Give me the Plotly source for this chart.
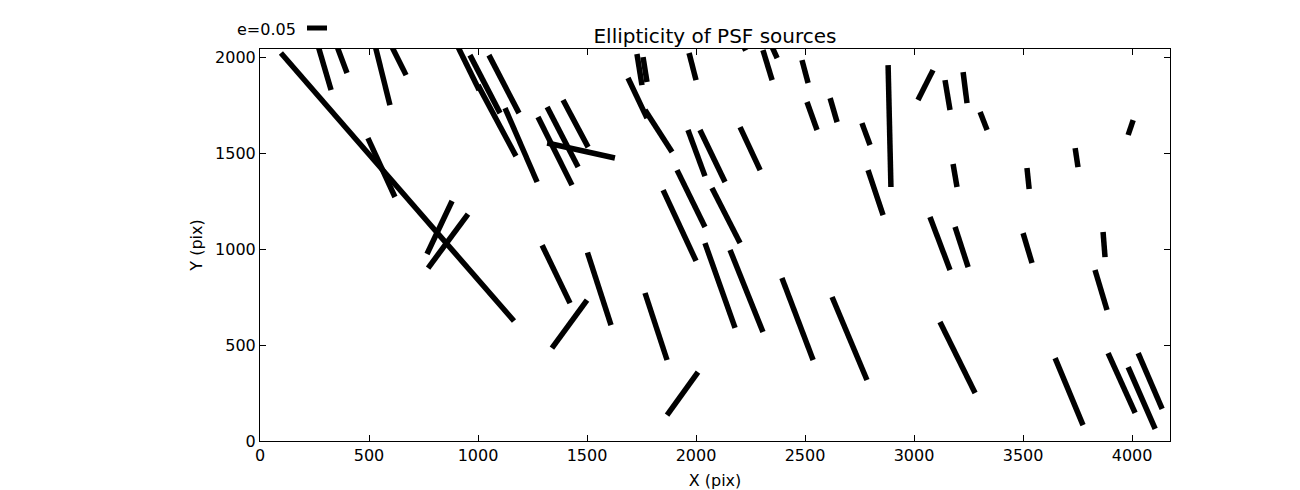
import plotly.graph_objects as go

# Whisker endpoints (data units: pixels on the detector)
x_start = [96, 266, 352, 528, 602, 905, 963, 1000, 1050, 1124, 495, 766, 771,
           1275, 1317, 1390, 1317, 1688, 1766, 1729, 1757, 1968, 1963, 2018, 2202,
           1913, 1849, 2073, 2041, 2156, 2394, 2624, 1294, 1500, 1502, 1766, 2009,
           2307, 2350, 2215, 2486, 2509, 2615, 2761, 2881, 3087, 2789, 3142, 3225,
           3303, 4005, 3739, 3518, 3179, 3073, 3188, 3500, 3867, 3830, 3119, 3647,
           3890, 3982, 4028]
y_start = [2021, 2060, 2060, 2060, 2060, 2060, 2010, 1854, 2010, 1734, 1578, 974, 901,
           1688, 1740, 1776, 1552, 1891, 1724, 2016, 2000, 2021, 1620, 1620, 1635,
           1411, 1307, 1318, 1031, 995, 849, 750, 1020, 734, 982, 771, 359,
           2036, 2050, 2065, 1984, 1766, 1786, 1656, 1958, 1932, 1411, 1880, 1922,
           1714, 1672, 1526, 1422, 1443, 1167, 1115, 1083, 1089, 891, 620, 432,
           458, 385, 458]
x_end = [1165, 326, 399, 596, 670, 1005, 1101, 1174, 1188, 1271, 619, 881, 954,
         1431, 1459, 1505, 1628, 1775, 1890, 1752, 1775, 2000, 2041, 2133, 2294,
         2041, 2000, 2202, 2179, 2307, 2537, 2784, 1422, 1339, 1610, 1867, 1867,
         2349, 2372, 2228, 2514, 2555, 2647, 2798, 2894, 3018, 2858, 3165, 3243,
         3335, 3982, 3752, 3528, 3197, 3165, 3248, 3541, 3876, 3885, 3280, 3775,
         4014, 4106, 4138]
y_end = [625, 1828, 1917, 1750, 1906, 1828, 1708, 1484, 1708, 1349, 1271, 1250, 1182,
         1333, 1427, 1531, 1474, 1682, 1505, 1854, 1870, 1880, 1380, 1349, 1411,
         1115, 938, 1031, 589, 568, 422, 318, 718, 484, 604, 422, 135,
         1880, 1995, 2034, 1865, 1620, 1661, 1542, 1323, 1776, 1177, 1724, 1760,
         1620, 1594, 1427, 1313, 1323, 891, 906, 927, 958, 682, 250, 83,
         146, 63, 167]

x_ticks = [0, 500, 1000, 1500, 2000, 2500, 3000, 3500, 4000]
y_ticks = [0, 500, 1000, 1500, 2000]
x_range = [0, 4174]
y_range = [0, 2042]

xs, ys = [], []
for a, b, c, d in zip(x_start, y_start, x_end, y_end):
    xs += [a, c, None]
    ys += [b, d, None]

FONT = "DejaVu Sans"
fig = go.Figure()
fig.add_trace(go.Scatter(x=xs, y=ys, mode="lines",
                         line=dict(color="black", width=5.5),
                         showlegend=False, hoverinfo="skip"))

axis_common = dict(showline=True, linecolor="black", linewidth=1, mirror="ticks",
                   ticks="inside", ticklen=6, tickwidth=1, tickcolor="black",
                   showgrid=False, zeroline=False,
                   tickfont=dict(family=FONT, size=16, color="black"))

fig.update_xaxes(range=x_range, tickvals=x_ticks, ticktext=[str(v) for v in x_ticks],
                 title=dict(text="X (pix)", font=dict(family=FONT, size=16, color="black"),
                            standoff=10), **axis_common)
fig.update_yaxes(range=y_range, tickvals=y_ticks, ticktext=[str(v) for v in y_ticks],
                 title=dict(text="Y (pix)", font=dict(family=FONT, size=16, color="black"),
                            standoff=8), **axis_common)

fig.update_layout(
    width=1300, height=490,
    margin=dict(l=260, r=130, t=49, b=49, autoexpand=False),
    paper_bgcolor="white", plot_bgcolor="white",
    title=dict(text="Ellipticity of PSF sources", x=0.5, xref="paper",
               y=1 - 36 / 490, yref="container", yanchor="middle",
               font=dict(family=FONT, size=20, color="black")),
)

# quiver key (e = 0.05)
fig.add_annotation(text="e=0.05", xref="paper", yref="paper",
                   x=(298 - 260) / 910, y=(441 - 29) / 392,
                   xanchor="right", yanchor="middle", showarrow=False,
                   font=dict(family=FONT, size=16, color="black"))
fig.add_shape(type="line", xref="paper", yref="paper",
              x0=(307 - 260) / 910, x1=(327 - 260) / 910,
              y0=(441 - 28) / 392, y1=(441 - 28) / 392,
              line=dict(color="black", width=5))

fig.write_html("out.html", config={"displayModeBar": False},
               post_script="document.body.style.margin='0';document.body.style.overflow='hidden';")
